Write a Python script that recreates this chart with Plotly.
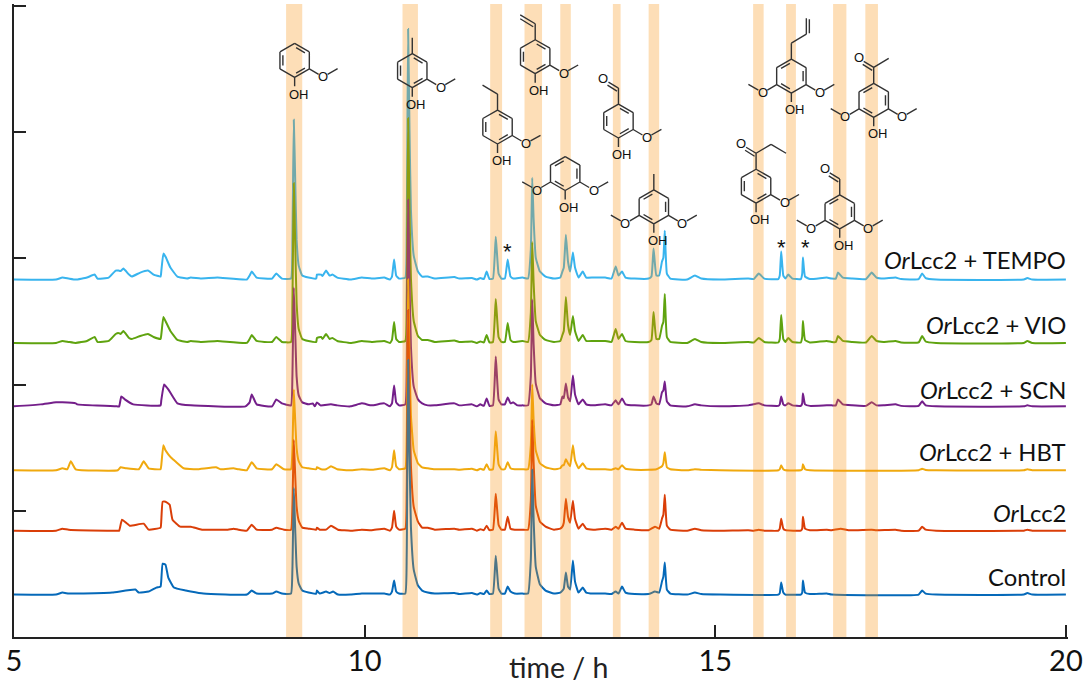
import plotly.graph_objects as go

# chromatograms, signal above each trace's own baseline (1 tick = 126.4)
names = ["OrLcc2 + TEMPO", "OrLcc2 + VIO", "OrLcc2 + SCN", "OrLcc2 + HBT", "OrLcc2", "Control"]
labels = ["<i>Or</i>Lcc2 + TEMPO", "<i>Or</i>Lcc2 + VIO", "<i>Or</i>Lcc2 + SCN", "<i>Or</i>Lcc2 + HBT", "<i>Or</i>Lcc2", "Control"]
colors = ["#38B4EE", "#5FA30F", "#741F8A", "#F0A90E", "#DA3E08", "#0569B9"]
baselines = [358, 294.5, 231, 167, 106.5, 42.5]
label_y = [377.5, 312.5, 247.5, 185.5, 124.5, 60.5]
y_ticks = [0, 126.4, 252.8, 379.2, 505.6, 632]

tempo_t = [5.00, 5.60, 5.69, 5.78, 5.88, 6.04, 6.15, 6.19, 6.35, 6.45, 6.49, 6.52, 6.56, 6.64, 6.68, 6.80, 6.91, 6.99, 7.09, 7.10, 7.13, 7.16, 7.23, 7.33, 7.47, 7.52, 7.66, 7.90, 8.32, 8.36, 8.39, 8.46, 8.68, 8.74, 8.82, 8.95,
           8.97, 8.99, 9.01, 9.03, 9.06, 9.11, 9.20, 9.31, 9.32, 9.38, 9.40, 9.45, 9.50, 9.54, 9.61, 9.80, 9.96, 10.10, 10.28, 10.36, 10.39, 10.42, 10.45, 10.49, 10.58,
           10.60, 10.62, 10.64, 10.66, 10.70, 10.76, 10.82, 10.90, 11.00, 11.28, 11.35, 11.53, 11.60, 11.65, 11.70, 11.74, 11.78, 11.83, 11.87, 11.91, 11.95, 12.00, 12.04, 12.08, 12.12, 12.25, 12.33,
           12.37, 12.39, 12.41, 12.44, 12.50, 12.58, 12.70, 12.79, 12.82, 12.84, 12.87, 12.90, 12.93, 12.97, 13.00, 13.05, 13.11, 13.16, 13.26, 13.43, 13.52, 13.58, 13.62, 13.67, 13.72, 13.85, 14.05,
           14.09, 14.12, 14.16, 14.20, 14.24, 14.26, 14.28, 14.31, 14.36, 14.60, 14.71, 14.80, 15.07, 15.47, 15.55, 15.62, 15.70, 15.90, 15.92, 15.94, 15.97, 16.00, 16.04, 16.10, 16.22, 16.24, 16.25, 16.28, 16.35,
           16.59, 16.66, 16.72, 16.75, 16.82, 16.95, 17.15, 17.23, 17.30, 17.40, 17.57, 17.65, 17.90, 17.95, 18.00, 18.15, 19.40, 19.45, 19.52, 20.00]
tempo_y = [0, 0, 2, 1, 0, 2, 5, 1, 2, 9, 9, 8.5, 11, 5, 3, 7, 9, 5, 3, 8, 26, 23, 12, 3, 1, 2, 1, 2, 0, 4, 8, 2, 1, 6, 1, 1,
           40, 160, 100, 40, 14, 4, 2, 1, 5, 5, 3.5, 9, 4, 5, 2, 0, 2, 1, 2, 0, 3, 20, 4, 1, 2,
           50, 251, 150, 70, 24, 8, 3, 3, 1, 2.5, 1, 1.5, 0, 1.5, 0.5, 8, 0.5, 1, 43, 6, 1, 1, 20, 3, 1, 2, 1,
           30, 102, 60, 22, 8, 3, 1, 2, 8, 12, 45, 18, 8, 27, 12, 2, 8, 2, 2, 2, 1, 13, 4, 8, 2, 1, 1,
           3, 31, 4, 4, 18, 22, 49, 6, 1, 0, 4, 1, 0, 1, 0.5, 6, 1, 0.5, 4, 28, 4, 1, 5, 1, 0.5, 6, 22, 3, 0.5,
           2, 1, 1, 7, 2, 1, 0.5, 7, 2, 1, 2, 0.5, 0.5, 6, 1.5, 0, 0, 1.5, 0, 0]

vio_t = [5.00, 5.60, 5.69, 5.78, 5.88, 6.04, 6.15, 6.19, 6.35, 6.45, 6.49, 6.52, 6.56, 6.64, 6.68, 6.80, 6.91, 6.99, 7.09, 7.10, 7.13, 7.16, 7.23, 7.33, 7.47, 7.52, 7.66, 7.90, 8.32, 8.36, 8.39, 8.46, 8.68, 8.74, 8.82, 8.95,
         8.97, 8.99, 9.01, 9.03, 9.06, 9.11, 9.20, 9.31, 9.32, 9.38, 9.40, 9.45, 9.50, 9.54, 9.61, 9.80, 9.96, 10.10, 10.28, 10.36, 10.39, 10.42, 10.45, 10.49, 10.58,
         10.60, 10.62, 10.64, 10.66, 10.70, 10.76, 10.82, 10.90, 11.00, 11.28, 11.35, 11.53, 11.60, 11.65, 11.70, 11.74, 11.78, 11.83, 11.87, 11.91, 11.95, 12.00, 12.04, 12.08, 12.12, 12.25, 12.33,
         12.37, 12.39, 12.41, 12.44, 12.50, 12.58, 12.70, 12.79, 12.82, 12.84, 12.87, 12.90, 12.93, 12.97, 13.00, 13.05, 13.11, 13.16, 13.26, 13.43, 13.52, 13.58, 13.62, 13.67, 13.72, 13.85, 14.05,
         14.09, 14.12, 14.16, 14.20, 14.24, 14.26, 14.28, 14.31, 14.36, 14.60, 14.71, 14.80, 15.07, 15.47, 15.55, 15.62, 15.70, 15.90, 15.92, 15.94, 15.97, 16.00, 16.04, 16.10, 16.22, 16.24, 16.25, 16.28, 16.35,
         16.59, 16.66, 16.72, 16.75, 16.82, 16.95, 17.15, 17.23, 17.30, 17.40, 17.57, 17.65, 17.90, 17.95, 18.00, 18.15, 19.40, 19.45, 19.52, 20.00]
vio_y = [0, 0, 2, 1, 0, 2, 6, 1, 2, 9, 10, 9, 12, 5, 4, 7, 9, 6, 4, 8, 26, 22, 12, 3, 1, 2, 1, 2, 0, 4, 8, 2, 1, 6, 1, 1,
         40, 160, 100, 40, 14, 4, 2, 1, 5, 6, 4, 9, 4, 5, 2, 0, 2, 1, 2, 0, 3, 21, 4, 1, 2,
         45, 225, 135, 65, 22, 7, 3, 3, 1, 2.5, 1, 1.5, 0, 1.5, 0.5, 8, 0.5, 1, 44, 6, 1, 1, 20, 3, 1, 2, 1,
         30, 101, 60, 22, 8, 3, 1, 2, 8, 12, 46, 18, 8, 27, 12, 2, 8, 2, 2, 2, 1, 14, 4, 9, 2, 1, 1,
         3, 31, 4, 4, 17, 21, 49, 6, 1, 0, 4, 1, 0, 1, 0.5, 5, 1, 0.5, 4, 28, 4, 1, 5, 1, 0.5, 6, 22, 3, 0.5,
         2, 1, 1, 7, 2, 1, 0.5, 7, 2, 1, 2, 0.5, 0.5, 7, 1.5, 0, 0, 2, 0, 0]

scn_t = [5.00, 5.38, 5.60, 5.69, 5.88, 5.90, 6.47, 6.50, 6.53, 6.58, 6.70, 7.09, 7.10, 7.14, 7.20, 7.33, 7.52, 8.30, 8.36, 8.39, 8.46, 8.68, 8.74, 8.82, 8.95,
         8.97, 8.99, 9.01, 9.03, 9.06, 9.11, 9.20, 9.26, 9.29, 9.32, 9.37, 9.52, 9.61, 9.80, 9.96, 10.10, 10.28, 10.36, 10.39, 10.42, 10.45, 10.49, 10.58,
         10.60, 10.62, 10.64, 10.66, 10.70, 10.76, 10.82, 10.90, 11.00, 11.28, 11.35, 11.53, 11.60, 11.65, 11.70, 11.74, 11.78, 11.83, 11.87, 11.91, 11.95, 12.00, 12.04, 12.08, 12.12, 12.18, 12.25, 12.33,
         12.37, 12.39, 12.41, 12.44, 12.50, 12.58, 12.70, 12.79, 12.82, 12.84, 12.87, 12.90, 12.93, 12.97, 13.00, 13.05, 13.11, 13.16, 13.26, 13.43, 13.52, 13.58, 13.62, 13.67, 13.72, 13.85, 14.05,
         14.09, 14.12, 14.16, 14.20, 14.24, 14.26, 14.28, 14.31, 14.36, 14.60, 14.71, 14.80, 15.07, 15.47, 15.62, 15.70, 15.90, 15.92, 15.94, 15.97, 16.00, 16.04, 16.10, 16.22, 16.24, 16.25, 16.28, 16.35,
         16.59, 16.66, 16.72, 16.75, 16.82, 16.95, 17.15, 17.23, 17.30, 17.40, 17.57, 17.65, 17.90, 17.95, 18.00, 18.15, 19.40, 19.45, 19.52, 20.00]
scn_y = [0, 2, 4, 4, 3, 2, 0, 0, 10, 7, 2, 1, 6, 22, 17, 3, 1, 0, 4, 12, 2, 0, 7, 3, 1,
         30, 119, 75, 30, 11, 4, 2, 3, 0, 4, 1, 2, 1, 0, 3, 1, 3, 0, 3, 21, 4, 1, 2,
         40, 207, 125, 60, 20, 7, 3, 1, 1, 3, 1, 2, 0, 2, 0.5, 8, 0.5, 1, 50, 7, 2, 2, 9, 3, 4, 1, 1, 1,
         30, 107, 62, 23, 8, 3, 1, 2, 10, 8, 23, 9, 5, 31, 12, 2, 7, 2, 1, 2, 1, 6, 2, 8, 2, 1, 1,
         2, 10, 3, 2, 14, 16, 25, 5, 1, 0, 2, 1, 0, 1, 3, 1, 0.5, 2, 10, 2, 1, 3, 1, 0.5, 3, 13, 2, 0.5,
         1, 1, 1, 7, 2, 1, 0.5, 4, 1, 1, 2, 0.5, 0.5, 5, 1, 0, 0, 1, 0, 0]

hbt_t = [5.00, 5.60, 5.69, 5.76, 5.81, 5.88, 6.48, 6.52, 6.60, 6.78, 6.85, 6.92, 7.09, 7.10, 7.13, 7.16, 7.20, 7.25, 7.30, 7.42, 7.60, 7.88, 7.95, 8.13, 8.20, 8.32, 8.39, 8.46, 8.68, 8.74, 8.85, 8.95,
         8.97, 8.99, 9.01, 9.03, 9.06, 9.11, 9.20, 9.31, 9.32, 9.38, 9.45, 9.52, 9.61, 9.80, 9.96, 10.10, 10.28, 10.36, 10.39, 10.42, 10.45, 10.49, 10.58,
         10.60, 10.62, 10.64, 10.66, 10.70, 10.76, 10.82, 10.90, 11.00, 11.28, 11.35, 11.53, 11.60, 11.65, 11.70, 11.74, 11.78, 11.83, 11.87, 11.91, 11.95, 12.00, 12.04, 12.08, 12.14, 12.25, 12.33,
         12.37, 12.39, 12.41, 12.44, 12.50, 12.58, 12.70, 12.79, 12.82, 12.84, 12.87, 12.90, 12.93, 12.97, 13.00, 13.05, 13.11, 13.16, 13.26, 13.43, 13.52, 13.58, 13.62, 13.67, 13.72, 13.85, 14.05,
         14.16, 14.24, 14.26, 14.28, 14.31, 14.36, 14.60, 14.71, 14.80, 15.07, 15.90, 15.92, 15.94, 15.97, 16.00, 16.22, 16.24, 16.25, 16.28, 16.35, 17.90, 17.95, 18.00, 18.15, 19.40, 19.45, 19.52, 20.00]
hbt_y = [0, 0, 2, 1, 9, 1, 0, 3, 2, 1, 9, 2, 1, 5, 25, 20, 16, 12, 9, 2, 1, 3, 1, 2, 1, 0, 8, 2, 1, 6, 1, 1,
         20, 81, 50, 22, 9, 3, 2, 1, 3, 1, 1, 4, 1, 0, 1, 0.5, 2, 0, 3, 20, 4, 1, 2,
         35, 191, 115, 55, 20, 7, 3, 2, 1, 1, 0.5, 1.5, 0, 1.5, 0.5, 6, 0.5, 1, 39, 6, 1, 1, 8, 2, 1, 1, 1,
         25, 86, 50, 20, 7, 3, 1, 2, 5, 5, 11, 7, 4, 25, 10, 2, 7, 2, 1, 1, 0.5, 2, 1, 5, 1.5, 0.5, 0.5,
         1, 4, 7, 18, 3, 1, 0, 1, 0.5, 0, 0, 1, 5, 1, 0, 0, 1, 6, 1, 0, 0, 1.5, 0.3, 0, 0, 1, 0, 0]

orlcc_t = [5.00, 5.60, 5.69, 5.78, 6.47, 6.50, 6.54, 6.65, 6.85, 6.92, 7.09, 7.10, 7.12, 7.16, 7.22, 7.26, 7.37, 7.52, 7.68, 8.05, 8.13, 8.20, 8.32, 8.39, 8.46, 8.68, 8.74, 8.85, 8.95,
           8.97, 8.99, 9.01, 9.03, 9.06, 9.11, 9.20, 9.31, 9.32, 9.36, 9.45, 9.52, 9.62, 9.80, 9.96, 10.10, 10.28, 10.36, 10.39, 10.42, 10.45, 10.49, 10.58,
           10.60, 10.62, 10.64, 10.66, 10.70, 10.76, 10.82, 10.90, 11.00, 11.28, 11.35, 11.53, 11.60, 11.65, 11.70, 11.74, 11.78, 11.83, 11.87, 11.91, 11.95, 12.00, 12.04, 12.08, 12.14, 12.25, 12.33,
           12.37, 12.39, 12.41, 12.44, 12.50, 12.58, 12.70, 12.79, 12.82, 12.84, 12.87, 12.90, 12.93, 12.97, 13.00, 13.05, 13.11, 13.16, 13.26, 13.43, 13.52, 13.58, 13.62, 13.67, 13.72, 13.85, 14.05,
           14.14, 14.20, 14.24, 14.26, 14.28, 14.31, 14.36, 14.60, 14.71, 14.80, 15.07, 15.47, 15.55, 15.62, 15.70, 15.90, 15.92, 15.94, 15.97, 16.00, 16.22, 16.24, 16.25, 16.28, 16.35,
           16.59, 16.66, 16.79, 16.90, 17.23, 17.30, 17.57, 17.65, 17.90, 17.95, 18.00, 18.15, 19.40, 19.45, 19.52, 20.00]
orlcc_y = [0, 0, 2, 1, 0, 0, 11, 5, 7, 1, 3, 10, 29, 29, 26, 11, 4, 4, 1, 1, 2, 1, 0, 6, 1, 1, 3, 1, 1,
           25, 91, 55, 24, 10, 3, 2, 1, 3, 1, 1, 5, 1, 0, 1, 0.5, 2, 0, 3, 20, 4, 1, 2,
           40, 221, 132, 65, 24, 9, 3, 3, 1, 2, 1, 2, 0, 1.5, 0.5, 5, 0.5, 1, 37, 6, 1, 1, 14, 2, 1, 1, 1,
           30, 111, 68, 25, 9, 4, 1, 2, 4, 8, 32, 14, 8, 30, 12, 2, 7, 2, 1, 2, 1, 4, 2, 8, 2, 1, 0.5,
           4, 2, 12, 16, 36, 5, 1, 0, 2, 0.5, 0, 0.5, 0, 1, 0, 0, 2, 12, 2, 0.5, 0, 2, 14, 2, 0.5,
           1, 0.5, 2, 0.5, 1, 0.5, 1, 0, 0, 4, 1, 0, 0, 1, 0, 0]

control_t = [5.00, 5.60, 5.69, 5.78, 5.90, 6.40, 6.73, 6.78, 6.92, 7.03, 7.09, 7.10, 7.12, 7.16, 7.20, 7.28, 7.45, 7.52, 7.70, 8.32, 8.39, 8.46, 8.68, 8.74, 8.82, 8.95,
             8.97, 8.99, 9.01, 9.03, 9.06, 9.11, 9.20, 9.31, 9.32, 9.36, 9.45, 9.50, 9.55, 9.62, 9.80, 9.96, 10.28, 10.36, 10.39, 10.42, 10.45, 10.49, 10.58,
             10.60, 10.62, 10.64, 10.66, 10.70, 10.76, 10.82, 10.90, 11.00, 11.28, 11.35, 11.53, 11.60, 11.65, 11.70, 11.74, 11.78, 11.83, 11.87, 11.91, 11.95, 12.00, 12.04, 12.08, 12.14, 12.25, 12.33,
             12.37, 12.39, 12.41, 12.44, 12.50, 12.58, 12.70, 12.79, 12.82, 12.84, 12.87, 12.90, 12.93, 12.97, 13.00, 13.05, 13.11, 13.16, 13.26, 13.43, 13.52, 13.58, 13.62, 13.67, 13.72, 13.85, 14.05,
             14.14, 14.20, 14.24, 14.26, 14.28, 14.31, 14.36, 14.60, 14.71, 14.80, 15.07, 15.90, 15.92, 15.94, 15.97, 16.00, 16.22, 16.24, 16.25, 16.28, 16.35,
             16.59, 16.66, 17.90, 17.95, 18.00, 18.15, 19.40, 19.45, 19.52, 20.00]
control_y = [0, 0, 2, 1, 1, 2, 5, 2, 3, 7, 8, 14, 31, 30, 17, 7, 4, 3, 1, 0, 4, 1, 1, 3, 1, 1,
             25, 107, 65, 28, 11, 4, 2, 1, 4, 1, 3, 1.5, 3, 0, 0, 1, 1, 0, 3, 14, 3, 1, 1,
             40, 235, 140, 68, 25, 9, 4, 2, 1, 1.5, 0.5, 1.5, 0, 1.5, 0.5, 4, 0.5, 1, 39, 6, 1, 1, 8, 3, 1, 1, 1,
             35, 125, 75, 28, 10, 4, 1, 2, 4, 6, 22, 8, 5, 34, 13, 2, 7, 2, 1, 1, 0.5, 3, 1, 8, 2, 0.5, 0.5,
             3, 2, 13, 18, 32, 5, 1, 0, 2, 0.5, 0, 0, 1.5, 12, 2, 0, 0, 2, 14, 2, 0.5,
             1, 0, 0, 4, 1, 0, 0, 1.5, 0, 0]

times = [tempo_t, vio_t, scn_t, hbt_t, orlcc_t, control_t]
signals = [tempo_y, vio_y, scn_y, hbt_y, orlcc_y, control_y]

# shaded retention windows, hours
band_start = [8.88, 10.54, 11.79, 12.28, 12.79, 13.54, 14.05, 15.54, 16.01, 16.68, 17.14]
band_end = [9.11, 10.76, 11.96, 12.53, 12.94, 13.65, 14.20, 15.69, 16.15, 16.87, 17.32]

# peak markers
star_t = [12.04, 15.94, 16.29]
star_y = [386, 390, 390]

# structures: ring centre in page pixels, group at the top, methoxy on both sides or not
molecules = [
    (294.3, 60.0, None, False),
    (412.0, 70.3, "methyl", False),
    (497.3, 126.7, "ethyl", False),
    (535.0, 56.3, "vinyl", False),
    (565.0, 173.3, None, True),
    (618.3, 120.7, "aldehyde", False),
    (653.7, 206.7, "methyl", True),
    (756.0, 186.0, "propanoyl", False),
    (791.3, 75.7, "allyl", True),
    (839.7, 211.7, "aldehyde", True),
    (873.7, 100.0, "acetyl", True),
]

# plot area in page pixels: axis ranges run a hair past the last ticks so those ticks stay drawn
L, R, T, B = 13.5, 1068.1, 3.5, 637.5
X_MAX, Y_MAX = 20.03, 634
INK = "#222222"


def px(x, y):
    return (x - L) / (R - L), (B - y) / (B - T)


def seg(x0, y0, x1, y1):
    a, b = px(x0, y0)
    c, d = px(x1, y1)
    return f"M {a:.5f} {b:.5f} L {c:.5f} {d:.5f} "


def atom(x, y, text):
    a, b = px(x, y)
    return dict(x=a, y=b, xref="paper", yref="paper", text=text, showarrow=False, xanchor="center", yanchor="middle",
                font=dict(family="Liberation Sans", size=13, color="#111111"))


def draw_molecule(cx, cy, top, both):
    r = 17.0
    dx = 14.7
    pts = [(0, -r), (dx, -r / 2), (dx, r / 2), (0, r), (-dx, r / 2), (-dx, -r / 2)]
    path = ""
    for i in range(6):
        x0, y0 = pts[i]
        x1, y1 = pts[(i + 1) % 6]
        path += seg(cx + x0, cy + y0, cx + x1, cy + y1)
    # inner lines of the double bonds
    edges = [5, 1, 3] if both else [4, 0, 2]
    for i in edges:
        x0, y0 = pts[i]
        x1, y1 = pts[(i + 1) % 6]
        path += seg(cx + x0 * 0.8 + (x1 - x0) * 0.1, cy + y0 * 0.8 + (y1 - y0) * 0.1,
                    cx + x1 * 0.8 - (x1 - x0) * 0.1, cy + y1 * 0.8 - (y1 - y0) * 0.1)
    notes = []
    # OH
    path += seg(cx, cy + r, cx, cy + r + 9)
    notes.append(atom(cx + 4, cy + 33.7, "OH"))
    # methoxy
    path += seg(cx + dx, cy + r / 2, cx + 24, cy + 14)
    path += seg(cx + 33, cy + 14, cx + 43, cy + 8.3)
    notes.append(atom(cx + 28.5, cy + 16.5, "O"))
    if both:
        path += seg(cx - dx, cy + r / 2, cx - 24, cy + 14)
        path += seg(cx - 33, cy + 14, cx - 43, cy + 8.3)
        notes.append(atom(cx - 28.5, cy + 16.5, "O"))
    # group on top of the ring
    if top:
        path += seg(cx, cy - r, cx, cy - r - 16)
    if top == "ethyl":
        path += seg(cx, cy - r - 16, cx - 15, cy - r - 25)
    if top == "vinyl":
        path += seg(cx, cy - r - 16, cx - 15, cy - r - 25)
        path += seg(cx - 2, cy - r - 13, cx - 15, cy - r - 21)
    if top in ("aldehyde", "acetyl", "propanoyl"):
        path += seg(cx, cy - r - 16, cx - 10, cy - r - 22)
        path += seg(cx - 1.5, cy - r - 13, cx - 11, cy - r - 19)
        notes.append(atom(cx - 15, cy - r - 26, "O"))
    if top in ("acetyl", "propanoyl"):
        path += seg(cx, cy - r - 16, cx + 15, cy - r - 25)
    if top == "propanoyl":
        path += seg(cx + 15, cy - r - 25, cx + 30, cy - r - 16)
    if top == "allyl":
        path += seg(cx, cy - r - 16, cx + 15, cy - r - 25)
        path += seg(cx + 15, cy - r - 25, cx + 15, cy - r - 41)
        path += seg(cx + 18, cy - r - 26, cx + 18, cy - r - 40)
    shape = dict(type="path", path=path, xref="paper", yref="paper", layer="above",
                 line=dict(color="#333333", width=1.4))
    return shape, notes


fig = go.Figure()
for i in range(len(names)):
    fig.add_trace(go.Scatter(x=times[i], y=[baselines[i] + v for v in signals[i]], mode="lines", name=names[i],
                             line=dict(color=colors[i], width=2, shape="spline", smoothing=0.35), hoverinfo="skip"))

shapes = []
for a, b in zip(band_start, band_end):
    shapes.append(dict(type="rect", x0=a, x1=b, xref="x", y0=0, y1=1, yref="paper", layer="above",
                       fillcolor="rgba(248,145,18,0.3)", line=dict(width=0)))

annotations = []
for m in molecules:
    s, n = draw_molecule(*m)
    shapes.append(s)
    annotations += n

for i in range(len(names)):
    annotations.append(dict(x=20, y=label_y[i], xref="x", yref="y", text=labels[i], showarrow=False, xanchor="right",
                            yanchor="middle", xshift=2, font=dict(family="Lato", size=23.8, color="#111111")))
for t, y in zip(star_t, star_y):
    annotations.append(dict(x=t, y=y, xref="x", yref="y", text="*", showarrow=False, yanchor="middle",
                            font=dict(family="Liberation Sans", size=22, color="#111111")))
annotations.append(dict(x=12.77, y=-0.017, xref="x", yref="paper", text="time / h", showarrow=False, yanchor="top",
                        font=dict(family="Lato", size=28.5, color="#222222")))

fig.update_layout(
    width=1084, height=691, autosize=False,
    margin=dict(l=L, r=1084 - R, t=T, b=691 - B, pad=0, autoexpand=False),
    paper_bgcolor="white", plot_bgcolor="white", showlegend=False,
    shapes=shapes, annotations=annotations,
)
fig.update_xaxes(range=[5, X_MAX], tickmode="array", tickvals=[5, 10, 15, 20], ticks="inside", ticklen=12, tickwidth=2,
                 tickcolor=INK, showline=True, linecolor=INK, linewidth=2, showgrid=False, zeroline=False,
                 ticklabelstandoff=-3, tickfont=dict(family="Lato", size=29, color="#111111"))
fig.update_yaxes(range=[0, Y_MAX], tickmode="array", tickvals=y_ticks, ticks="inside", ticklen=12, tickwidth=2, tickcolor=INK,
                 showline=True, linecolor=INK, linewidth=2, showgrid=False, zeroline=False, showticklabels=False)

for t, v in zip(times, signals):
    assert len(t) == len(v), (len(t), len(v))

fig.write_html("out.html", config={"displayModeBar": False},
               post_script="document.body.style.margin='0';document.body.style.overflow='hidden';")
